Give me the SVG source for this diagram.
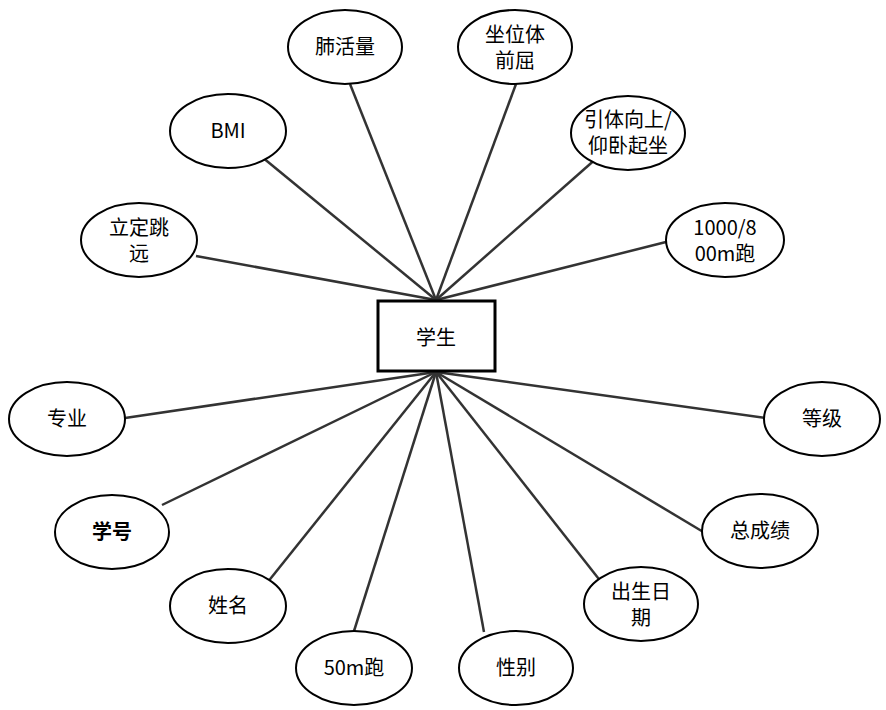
<svg xmlns="http://www.w3.org/2000/svg" width="886" height="710" viewBox="0 0 886 710">
<style>
ellipse,rect{fill:#fff;stroke:#000;stroke-width:2}
rect{stroke-width:3}
line{stroke:#333;stroke-width:2.5}
text{font-family:"Noto Sans CJK SC","Noto Sans",sans-serif;font-size:20px;text-anchor:middle;fill:#000}
</style>
<rect width="886" height="710" fill="#fff" style="stroke:none"/>
<g id="connectors">
<line x1="436" y1="300" x2="350" y2="84"/>
<line x1="436" y1="300" x2="516" y2="84"/>
<line x1="436" y1="300" x2="262" y2="157"/>
<line x1="436" y1="300" x2="598" y2="157"/>
<line x1="436" y1="300" x2="196" y2="256"/>
<line x1="436" y1="300" x2="666" y2="242"/>
<line x1="436" y1="372" x2="125" y2="418"/>
<line x1="436" y1="372" x2="765" y2="418"/>
<line x1="436" y1="372" x2="162" y2="505"/>
<line x1="436" y1="372" x2="705" y2="533"/>
<line x1="436" y1="372" x2="267" y2="583"/>
<line x1="436" y1="372" x2="602" y2="583"/>
<line x1="436" y1="372" x2="354" y2="631"/>
<line x1="436" y1="372" x2="484" y2="632"/>
</g>
<g id="student"><rect x="378" y="301" width="117" height="70"/><text x="436" y="345">学生</text></g>
<g id="n1"><ellipse cx="345" cy="47" rx="57" ry="37"/><text x="345" y="54">肺活量</text></g>
<g id="n2"><ellipse cx="515" cy="47" rx="57" ry="37"/><text x="515" y="42">坐位体</text><text x="515" y="68">前屈</text></g>
<g id="n3"><ellipse cx="228" cy="131" rx="58" ry="37"/><text x="228" y="138">BMI</text></g>
<g id="n4"><ellipse cx="628" cy="133" rx="57" ry="37"/><text x="628" y="127">引体向上/</text><text x="628" y="153">仰卧起坐</text></g>
<g id="n5"><ellipse cx="139" cy="240" rx="58" ry="37"/><text x="139" y="235">立定跳</text><text x="139" y="261">远</text></g>
<g id="n6"><ellipse cx="725" cy="240" rx="59" ry="37"/><text x="725" y="235">1000/8</text><text x="725" y="261">00m跑</text></g>
<g id="n7"><ellipse cx="67" cy="419" rx="58" ry="37"/><text x="67" y="426">专业</text></g>
<g id="n8"><ellipse cx="822" cy="419" rx="58" ry="37"/><text x="822" y="426">等级</text></g>
<g id="n9"><ellipse cx="112" cy="532" rx="57" ry="37"/><text x="112" y="539" font-weight="bold">学号</text></g>
<g id="n10"><ellipse cx="760" cy="531" rx="58" ry="37"/><text x="760" y="538">总成绩</text></g>
<g id="n11"><ellipse cx="228" cy="606" rx="58" ry="37"/><text x="228" y="613">姓名</text></g>
<g id="n12"><ellipse cx="641" cy="604" rx="57" ry="37"/><text x="641" y="599">出生日</text><text x="641" y="625">期</text></g>
<g id="n13"><ellipse cx="354" cy="668" rx="58" ry="37"/><text x="354" y="675">50m跑</text></g>
<g id="n14"><ellipse cx="516" cy="668" rx="57" ry="37"/><text x="516" y="675">性别</text></g>
</svg>
